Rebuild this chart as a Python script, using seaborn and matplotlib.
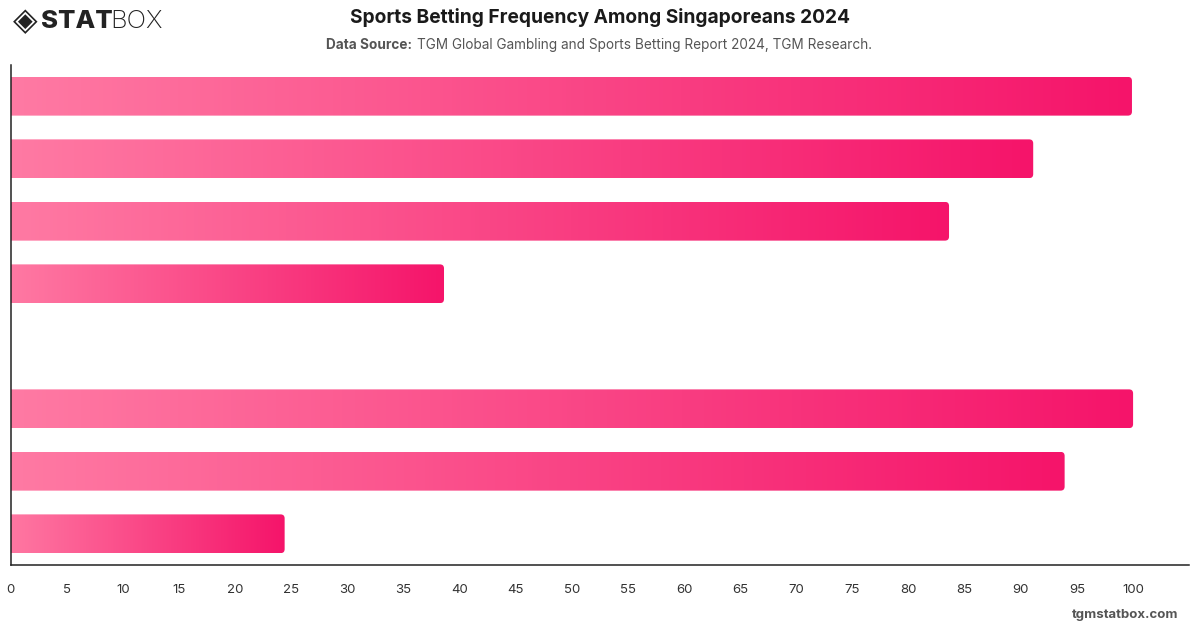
import matplotlib
matplotlib.use("Agg")
import matplotlib.pyplot as plt
from matplotlib.patches import FancyBboxPatch
from matplotlib.colors import LinearSegmentedColormap
import seaborn as sns
import numpy as np
import pandas as pd

# values (category labels are not shown on the chart)
categories = ["Bar 1", "Bar 2", "Bar 3", "Bar 4", "Gap", "Bar 6", "Bar 7", "Bar 8"]
values = [99.9, 91.1, 83.6, 38.6, 0, 100.0, 93.9, 24.4]
xticks = list(range(0, 101, 5))

df = pd.DataFrame({"category": categories, "value": values})

sns.set_theme(style="white")
plt.rcParams["font.family"] = ["Inter", "DejaVu Sans"]

fig = plt.figure(figsize=(12, 6.28), dpi=100)
ax = fig.add_axes([0.009, 0.1003, 0.982, 0.7962])

sns.barplot(data=df, x="value", y="category", order=categories, orient="h",
            width=0.62, color="#ff6f9c", ax=ax)

cmap = LinearSegmentedColormap.from_list("pink", ["#ff7ba4", "#f5146a"])
grad = np.linspace(0, 1, 256).reshape(1, -1)

for patch, v in zip(ax.patches, values):
    patch.set_alpha(0)
    if v <= 0:
        continue
    y0 = patch.get_y()
    h = patch.get_height()
    clip = FancyBboxPatch((-1, y0), v + 1, h,
                          boxstyle="round,pad=0,rounding_size=0.36",
                          mutation_aspect=0.178,
                          transform=ax.transData, facecolor="none", edgecolor="none")
    ax.add_patch(clip)
    im = ax.imshow(grad, cmap=cmap, aspect="auto", extent=[-1, v, y0 + h, y0],
                   interpolation="bilinear", zorder=2)
    im.set_clip_path(clip)

ax.set_xlim(0, 105)
ax.set_ylim(7.5, -0.5)
ax.set_xticks(xticks)
ax.set_xticklabels([str(t) for t in xticks], fontsize=9.5, color="#333333")
ax.set_yticks([])
ax.set_xlabel("")
ax.set_ylabel("")
ax.tick_params(axis="x", length=0, pad=14)
for s in ["top", "right"]:
    ax.spines[s].set_visible(False)
for s in ["left", "bottom"]:
    ax.spines[s].set_color("#222222")
    ax.spines[s].set_linewidth(1.1)

# header
fig.text(0.5, 0.972, "Sports Betting Frequency Among Singaporeans 2024",
         ha="center", va="center", fontsize=13.8, fontweight="bold", color="#1a1a1a")
fig.text(0.2715, 0.929, "Data Source:", ha="left", va="center",
         fontsize=9.8, fontweight="bold", color="#555555")
fig.text(0.3475, 0.929, "TGM Global Gambling and Sports Betting Report 2024, TGM Research.",
         ha="left", va="center", fontsize=9.8, color="#555555")

# logo
fig.text(0.011, 0.966, "\u25c8", ha="left", va="center", fontsize=23,
         color="#222222", family="DejaVu Sans")
fig.text(0.0345, 0.966, "STAT", ha="left", va="center", fontsize=18.5,
         fontweight="heavy", color="#222222")
fig.text(0.0915, 0.966, "BOX", ha="left", va="center", fontsize=18.5,
         fontweight="light", color="#222222")

# footer
fig.text(0.982, 0.021, "tgmstatbox.com", ha="right", va="center",
         fontsize=9.5, fontweight="bold", color="#555555")

fig.savefig("out.png", dpi=100)
